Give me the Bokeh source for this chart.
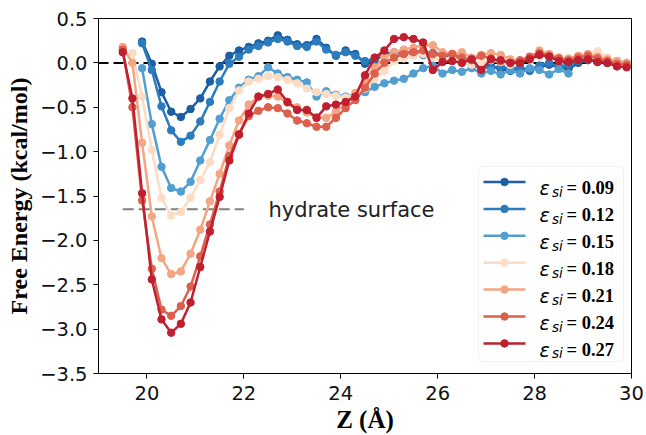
from bokeh.plotting import figure
from bokeh.models import Range1d, FixedTicker, CustomJSTickFormatter, Span, BoxAnnotation
from bokeh.core.properties import value
from bokeh.embed import file_html
from bokeh.resources import INLINE

# ---------------- data ----------------
Z = [19.5, 19.7, 19.9, 20.1, 20.3, 20.5, 20.7, 20.9, 21.1, 21.3,
     21.5, 21.7, 21.9, 22.1, 22.3, 22.5, 22.7, 22.9, 23.1, 23.3,
     23.5, 23.7, 23.9, 24.1, 24.3, 24.5, 24.7, 24.9, 25.1, 25.3,
     25.5, 25.7, 25.9, 26.1, 26.3, 26.5, 26.7, 26.9, 27.1, 27.3,
     27.5, 27.7, 27.9, 28.1, 28.3, 28.5, 28.7, 28.9, 29.1, 29.3,
     29.5, 29.7, 29.9]

eps_labels = ["0.09", "0.12", "0.15", "0.18", "0.21", "0.24", "0.27"]

fe_009 = [0.24, -0.01, -0.33, -0.55, -0.61, -0.52, -0.40, -0.21, -0.04, 0.08,
          0.14, 0.18, 0.22, 0.25, 0.31, 0.26, 0.21, 0.20, 0.27, 0.17,
          0.08, 0.14, 0.10, -0.01, 0.03, 0.09, 0.11, 0.13, 0.10, 0.12,
          0.08, 0.10, 0.06, 0.02, -0.02, -0.06, -0.04, -0.07, -0.09, -0.06,
          -0.09, -0.05, -0.02, -0.05, -0.07, 0.00, 0.03, 0.02, 0.00, 0.01,
          -0.01]
fe_012 = [0.22, -0.08, -0.49, -0.76, -0.89, -0.82, -0.66, -0.44, -0.21, -0.01,
          0.07, 0.15, 0.19, 0.23, 0.27, 0.24, 0.19, 0.18, 0.24, 0.15,
          0.09, 0.12, 0.08, 0.02, 0.05, 0.10, 0.12, 0.10, 0.13, 0.09,
          0.11, 0.10, 0.07, 0.03, 0.00, -0.03, -0.06, -0.04, -0.07, -0.05,
          -0.08, -0.03, 0.00, -0.04, -0.02, 0.02, 0.04, 0.01, 0.03, 0.02,
          0.00]
fe_015 = [-0.06, -0.69, -1.17, -1.41, -1.45, -1.34, -1.10, -0.87, -0.63, -0.42,
          -0.28, -0.19, -0.15, -0.05, -0.12, -0.16, -0.19, -0.22, -0.38, -0.32,
          -0.36, -0.38, -0.36, -0.33, -0.27, -0.23, -0.20, -0.18, -0.12, -0.06,
          -0.03, -0.12, -0.08, -0.10, -0.06, -0.12, -0.09, -0.13, -0.08, -0.12,
          -0.06, -0.08, -0.13, -0.07, -0.12]
fe_018 = [0.11, -0.38, -0.98, -1.52, -1.72, -1.68, -1.52, -1.32, -1.12, -0.81,
          -0.51, -0.31, -0.21, -0.18, -0.15, -0.16, -0.19, -0.23, -0.29, -0.33,
          -0.35, -0.37, -0.39, -0.36, -0.29, -0.18, -0.09, 0.02, 0.05, 0.08,
          0.10, 0.06, 0.03, 0.05, 0.02, -0.02, 0.00, 0.03, 0.01, -0.02,
          0.01, 0.04, 0.08, 0.10, 0.06, 0.04, 0.07, 0.10, 0.13, 0.06,
          0.02, 0.00]
fe_021 = [0.18, 0.00, -0.90, -1.73, -2.20, -2.38, -2.35, -2.15, -1.88, -1.56,
          -1.25, -0.93, -0.65, -0.47, -0.38, -0.37, -0.38, -0.45, -0.50, -0.56,
          -0.61, -0.62, -0.55, -0.46, -0.34, -0.19, -0.05, 0.06, 0.12, 0.15,
          0.17, 0.20, 0.20, 0.12, 0.10, 0.12, 0.06, 0.09, 0.11, 0.09,
          0.04, 0.02, 0.06, 0.14, 0.10, 0.06, 0.05, 0.08, 0.10, 0.07,
          0.04, 0.02, 0.00]
fe_024 = [0.15, -0.50, -1.55, -2.32, -2.78, -2.85, -2.74, -2.52, -2.18, -1.82,
          -1.45, -1.05, -0.80, -0.60, -0.54, -0.50, -0.51, -0.57, -0.65, -0.68,
          -0.72, -0.72, -0.62, -0.51, -0.42, -0.28, -0.12, 0.00, 0.06, 0.10,
          0.12, 0.14, 0.10, 0.08, 0.10, 0.06, 0.03, 0.08, 0.05, 0.02,
          0.00, 0.03, 0.07, 0.11, 0.08, 0.05, 0.03, 0.06, 0.08, 0.05,
          0.02, -0.01, -0.02]
fe_027 = [0.12, -0.40, -1.47, -2.44, -2.89, -3.04, -2.94, -2.70, -2.30, -1.90,
          -1.51, -1.10, -0.81, -0.57, -0.38, -0.35, -0.30, -0.44, -0.53, -0.53,
          -0.62, -0.49, -0.47, -0.44, -0.38, -0.14, 0.06, 0.14, 0.27, 0.29,
          0.27, 0.23, -0.08, 0.01, 0.02, 0.00, 0.04, -0.08, 0.04, 0.03,
          0.00, 0.00, 0.04, 0.09, 0.07, 0.02, 0.01, 0.03, 0.04, 0.01,
          0.00, -0.04, -0.05]

series_z = [Z[2:], Z[2:], Z[2:47], Z[1:], Z, Z, Z]
series_fe = [fe_009, fe_012, fe_015, fe_018, fe_021, fe_024, fe_027]
colors = ["#1b5ea5", "#2a7cbd", "#519fd2", "#fddcc4", "#f4a582", "#dd604d", "#bf1f2e"]

hydrate_y = -1.65
hydrate_z = [19.5, 22.0]

x_ticks = [20, 22, 24, 26, 28, 30]
y_ticks = [-3.5, -3.0, -2.5, -2.0, -1.5, -1.0, -0.5, 0.0, 0.5]

# ---------------- figure ----------------
X0, X1, Y0, Y1 = 19, 30, -3.5, 0.5
p = figure(width=646, height=435, output_backend="svg", toolbar_location=None,
           x_range=Range1d(X0, X1), y_range=Range1d(Y0, Y1),
           min_border_left=98, min_border_right=15, min_border_top=18, min_border_bottom=62)
p.grid.visible = False
p.background_fill_color = "white"
p.border_fill_color = "white"
p.outline_line_color = "black"
p.outline_line_width = 1

for ax in (p.xaxis, p.yaxis):
    ax.axis_line_color = "black"
    ax.major_tick_line_color = "black"
    ax.major_tick_out = 5
    ax.major_tick_in = 0
    ax.minor_tick_line_color = None
    ax.major_label_text_font = "DejaVu Sans"
    ax.major_label_text_font_size = "19.5px"
    ax.major_label_text_color = "#111111"
    ax.axis_label_text_font = "Liberation Serif"
    ax.axis_label_text_font_style = "bold"
    ax.axis_label_text_color = "black"

p.xaxis.axis_label_text_font_size = "25px"
p.yaxis.axis_label_text_font_size = "24px"
p.xaxis.ticker = FixedTicker(ticks=x_ticks)
p.yaxis.ticker = FixedTicker(ticks=y_ticks)
p.yaxis.formatter = CustomJSTickFormatter(code="return tick.toFixed(1).replace('-', '\\u2212');")
p.xaxis.major_label_standoff = 7
p.yaxis.major_label_standoff = 6
p.xaxis.axis_label = "Z (\u00c5)"
p.yaxis.axis_label = "Free Energy (kcal/mol)"
p.xaxis.axis_label_standoff = 3
p.yaxis.axis_label_standoff = 5

p.add_layout(Span(location=0, dimension="width", line_color="black", line_width=2,
                  line_dash="10 5", level="underlay"))

p.line(hydrate_z, [hydrate_y, hydrate_y], line_color="gray", line_width=2, line_dash="11 5")

for zs, fe, c in zip(series_z, series_fe, colors):
    p.line(zs, fe, line_color=c, line_width=2.5)
    p.scatter(zs, fe, size=7.5, fill_color=c, line_color=c)

# ---------------- annotation / legend (layout positions in page pixels) ----------------
FL, FT, FR, FB = 98.0, 18.0, 631.0, 373.0

def dx(px):
    return X0 + (px - FL) / (FR - FL) * (X1 - X0)

def dy(py):
    return Y1 - (py - FT) / (FB - FT) * (Y1 - Y0)

p.text([dx(268)], [dy(209)], text=["hydrate surface"], text_font=value("DejaVu Sans"),
       text_font_size="21px", text_baseline="middle", text_align="left", text_color="#222222")

p.add_layout(BoxAnnotation(left=dx(478), right=dx(623), top=dy(166), bottom=dy(361),
                           fill_color="white", fill_alpha=0.8, line_color="#cccccc",
                           line_width=1, border_radius=4, level="underlay"))

row_y = [181.5 + 26.9 * i for i in range(len(eps_labels))]
for i, (lab, c) in enumerate(zip(eps_labels, colors)):
    yc = dy(row_y[i])
    p.line([dx(483), dx(525)], [yc, yc], line_color=c, line_width=2.5)
    p.scatter([dx(504)], [yc], size=7.5, fill_color=c, line_color=c)

base = [dy(r + 6.3) for r in row_y]
sub = [dy(r + 10) for r in row_y]
p.text([dx(539)] * len(row_y), base, text=["\u03b5"] * len(row_y), text_font=value("DejaVu Sans"),
       text_font_style="italic", text_font_size="19px", text_baseline="alphabetic", text_color="black")
p.text([dx(551.5)] * len(row_y), sub, text=["si"] * len(row_y), text_font=value("DejaVu Sans"),
       text_font_style="italic", text_font_size="13.5px", text_baseline="alphabetic", text_color="black")
p.text([dx(566)] * len(row_y), base, text=["= " + s for s in eps_labels],
       text_font=value("Liberation Serif"), text_font_style="bold", text_font_size="18.5px",
       text_baseline="alphabetic", text_color="black")

open("out.html", "w").write(file_html(p, INLINE))
